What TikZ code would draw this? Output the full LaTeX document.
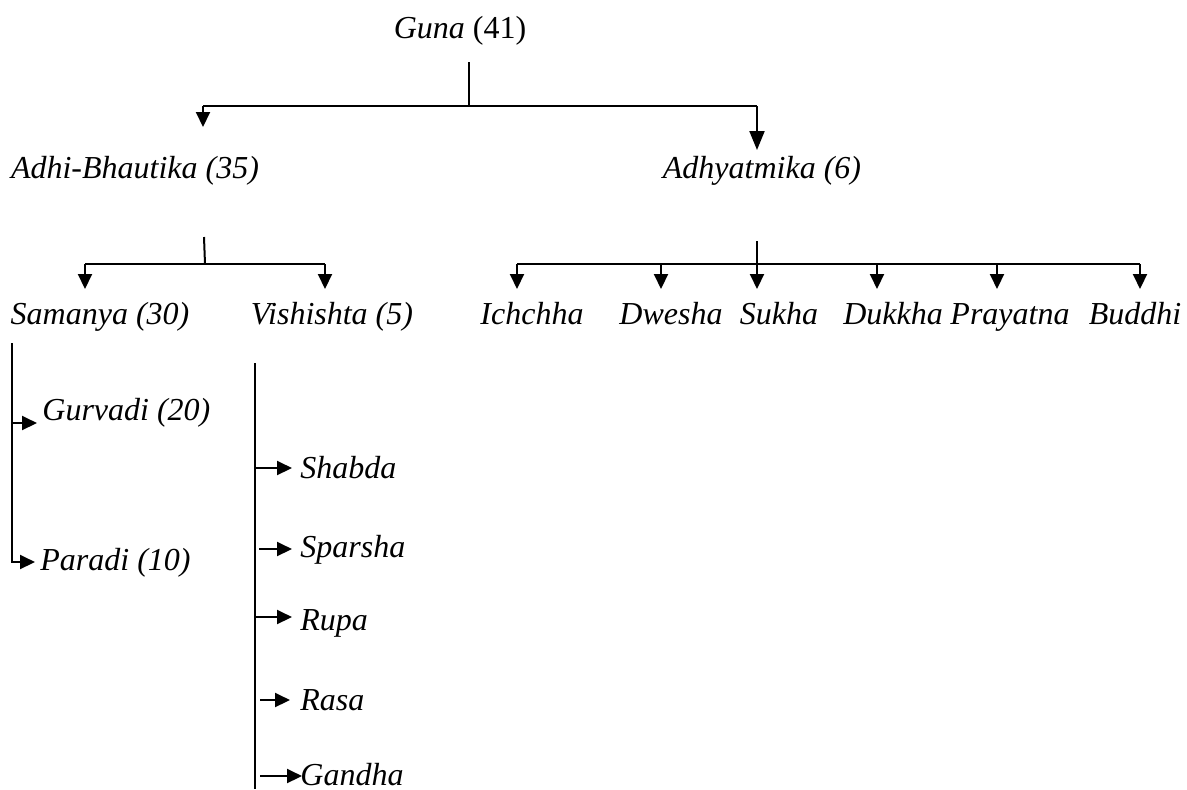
\documentclass[tikz,border=0pt]{standalone}
\usepackage{fontspec}
\setmainfont{Liberation Serif}
\usetikzlibrary{arrows.meta}
\begin{document}
\begin{tikzpicture}[x=0.5pt,y=-0.5pt,
  lbl/.style={font=\fontsize{16}{19}\selectfont\itshape, inner sep=0pt, anchor=base},
  lblw/.style={lbl, anchor=base west},
  conn/.style={line width=1pt},
  arr/.style={conn,-{Triangle[length=7.5pt,width=7pt]}},
  arrbig/.style={conn,-{Triangle[length=9.5pt,width=7.5pt]}}]
\useasboundingbox (0,0) rectangle (1187,789);
% labels
\node[lbl] (guna) at (460,38) {Guna \upshape(41)};
\node[lbl] (adhi) at (135,178) {Adhi-Bhautika (35)};
\node[lbl] (adhy) at (762,178) {Adhyatmika (6)};
\node[lbl] (sam) at (100,324) {Samanya (30)};
\node[lbl] (vis) at (332,324) {Vishishta (5)};
\node[lbl] (ich) at (532,324) {Ichchha};
\node[lbl] (dwe) at (671,324) {Dwesha};
\node[lbl] (suk) at (779,324) {Sukha};
\node[lbl] (duk) at (893,324) {Dukkha};
\node[lbl] (pra) at (1010,324) {Prayatna};
\node[lbl] (bud) at (1135,324) {Buddhi};
\node[lblw] (gur) at (42,420) {Gurvadi (20)};
\node[lblw] (par) at (40,570) {Paradi (10)};
\node[lblw] (sha) at (300,478) {Shabda};
\node[lblw] (spa) at (300,557) {Sparsha};
\node[lblw] (rup) at (300,630) {Rupa};
\node[lblw] (ras) at (300,710) {Rasa};
\node[lblw] (gan) at (300,785) {Gandha};
% level 1
\coordinate (g0) at (469,62);
\coordinate (g1) at (469,106);
\coordinate (gl) at (203,106);
\coordinate (gr) at (757,106);
\coordinate (glt) at (203,127);
\coordinate (grt) at (757,150);
\draw[conn] (g0) -- (g1);
\draw[conn] (gl) -- (gr);
\draw[arr] (gl) -- (glt);
\draw[arrbig] (gr) -- (grt);
% level 2 left
\coordinate (a0) at (204,237);
\coordinate (a1) at (205,264);
\coordinate (al) at (85,264);
\coordinate (ar) at (325,264);
\coordinate (alt) at (85,289);
\coordinate (art) at (325,289);
\draw[conn] (a0) -- (a1);
\draw[conn] (al) -- (ar);
\draw[arr] (al) -- (alt);
\draw[arr] (ar) -- (art);
% level 2 right
\coordinate (b0) at (757,241);
\coordinate (bl) at (517,264);
\coordinate (br) at (1140,264);
\draw[conn] (bl) -- (br);
\foreach \x in {517,661,757,877,997,1140}{
  \draw[arr] (\x,264) -- (\x,289);
}
\draw[conn] (b0) -- (757,264);
% Samanya branch
\coordinate (s0) at (12,343);
\coordinate (s1) at (12,562);
\draw[arr] (s0) -- (s1) -- (35,562);
\draw[arr] (13,423) -- (37,423);
% Vishishta branch
\coordinate (v0) at (255,363);
\coordinate (v1) at (255,789);
\draw[conn] (v0) -- (v1);
\draw[arr] (255,468) -- (292,468);
\draw[arr] (259,549) -- (292,549);
\draw[arr] (255,617) -- (292,617);
\draw[arr] (260,700) -- (290,700);
\draw[arr] (260,776) -- (302,776);
\end{tikzpicture}
\end{document}
